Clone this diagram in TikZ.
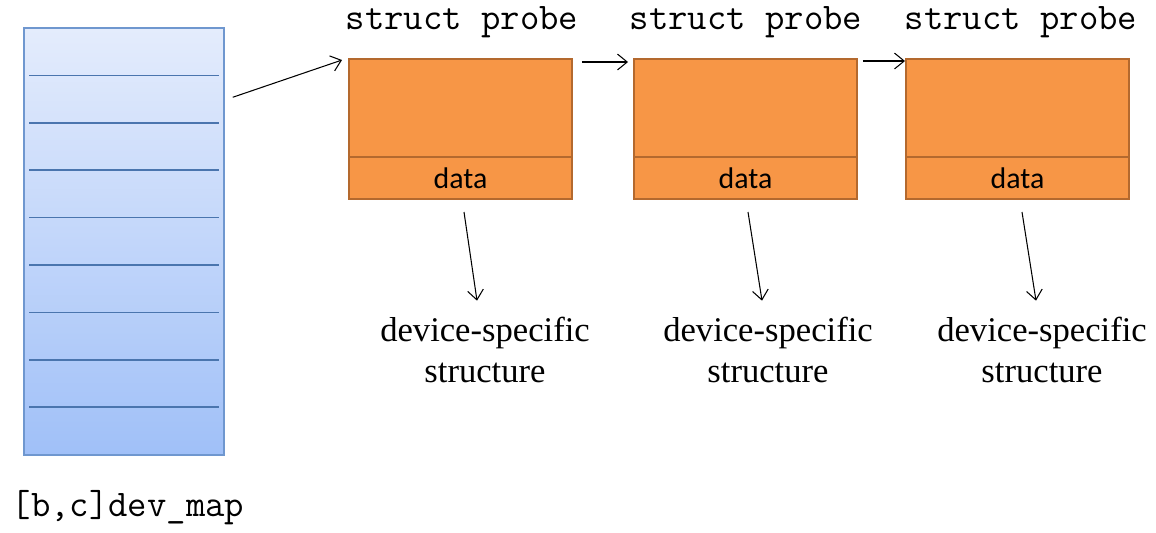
\documentclass[tikz,border=0pt]{standalone}
\usepackage{fontspec}
\setmainfont{Liberation Serif}
\newfontfamily\datafont{Carlito}
\usetikzlibrary{calc,arrows.meta}
\definecolor{probefill}{HTML}{F79646}
\definecolor{probeline}{HTML}{B4692E}
\definecolor{maptop}{HTML}{E4ECFC}
\definecolor{mapbot}{HTML}{A0C0F8}
\definecolor{mapedge}{HTML}{6F97CF}
\definecolor{mapline}{HTML}{4A75AE}
\tikzset{
  probebox/.style={draw=probeline, line width=1.6pt, fill=probefill, minimum width=4.46cm, minimum height=1.96cm, inner sep=0pt, outer sep=0pt},
  databox/.style={probebox, minimum height=0.84cm, font=\datafont\fontsize{17}{20}\selectfont},
  typename/.style={font=\ttfamily\fontsize{21.4}{24}\selectfont, inner sep=0pt},
  devtext/.style={align=center, inner sep=0pt, font=\fontsize{19.7}{23.5}\selectfont},
  ptr/.style={-{Straight Barb[length=5.5pt,width=9pt]}, line width=0.6pt}
}
\begin{document}
\begin{tikzpicture}[x=0.02cm, y=-0.02cm]
    \useasboundingbox (0,0) rectangle (1156,532);
        \node[draw=mapedge, line width=0.9pt, top color=maptop, bottom color=mapbot, minimum width=4cm, minimum height=8.54cm, inner sep=0pt] (devmap) at (124,241.5) {};
        \draw[mapline, line width=0.9pt] (29,75.4) -- (219,75.4);
        \draw[mapline, line width=0.9pt] (29,122.8) -- (219,122.8);
        \draw[mapline, line width=0.9pt] (29,170.2) -- (219,170.2);
        \draw[mapline, line width=0.9pt] (29,217.6) -- (219,217.6);
        \draw[mapline, line width=0.9pt] (29,265) -- (219,265);
        \draw[mapline, line width=0.9pt] (29,312.4) -- (219,312.4);
        \draw[mapline, line width=0.9pt] (29,359.8) -- (219,359.8);
        \draw[mapline, line width=0.9pt] (29,407.2) -- (219,407.2);
        \node[typename] (maplabel) at (128,508) {[b,c]dev\_map};

        \node[probebox] (p1) at (460.5,108) {};
        \node[databox] (d1) at (460.5,178) {data};
        \node[typename] (t1) at (462,22) {struct probe};
        \node[probebox] (p2) at (745.5,108) {};
        \node[databox] (d2) at (745.5,178) {data};
        \node[typename] (t2) at (746,22) {struct probe};
        \node[probebox] (p3) at (1017.5,108) {};
        \node[databox] (d3) at (1017.5,178) {data};
        \node[typename] (t3) at (1021,22) {struct probe};

        \node[devtext] (ds1) at (485,350) {device-specific\\structure};
        \node[devtext] (ds2) at (768,350) {device-specific\\structure};
        \node[devtext] (ds3) at (1042,350) {device-specific\\structure};

        \draw[ptr] ($(devmap.north east)+(8,70)$) -- ($(p1.north west)+(-7,1)$);
        \draw[ptr] ($(p1.north east)+(10,3)$) -- ($(p2.north west)+(-6,3)$);
        \draw[ptr] ($(p2.north east)+(6,2)$) -- ($(p3.north west)+(-1,2)$);
        \draw[ptr] ($(d1.south)+(3.5,13)$) -- ($(ds1.north)+(-8,-16)$);
        \draw[ptr] ($(d2.south)+(2.5,13)$) -- ($(ds2.north)+(-6,-16)$);
        \draw[ptr] ($(d3.south)+(4.5,13)$) -- ($(ds3.north)+(-6,-16)$);
    \end{tikzpicture}
\end{document}
